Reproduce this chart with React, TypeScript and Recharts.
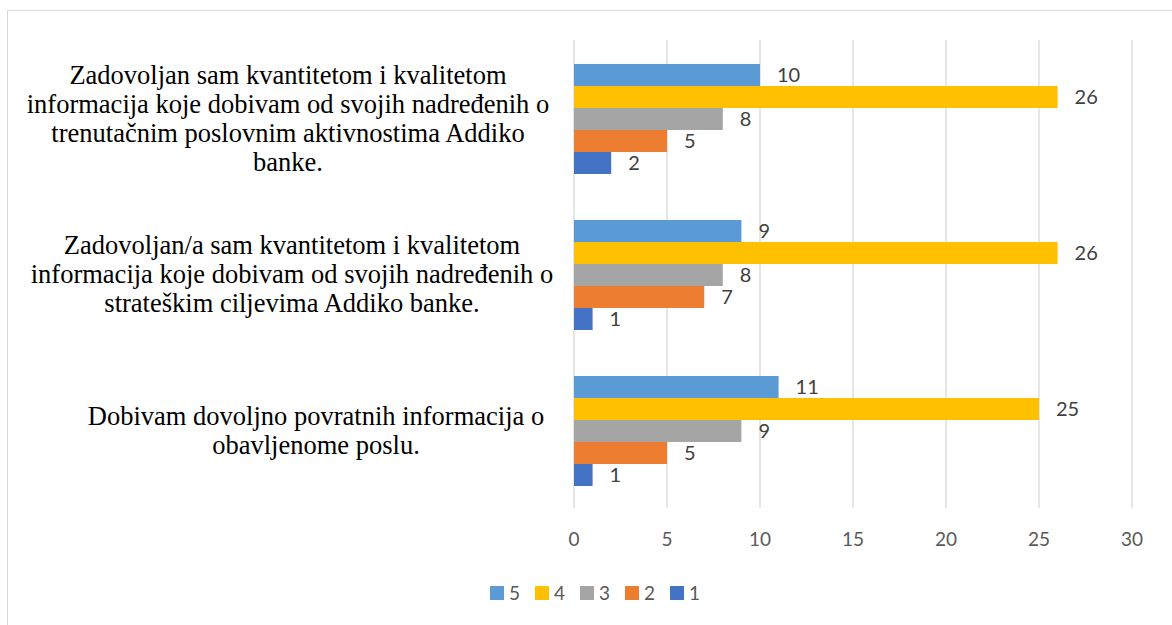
import React from "react";
import { BarChart, Bar, XAxis, YAxis, CartesianGrid, LabelList, Legend } from "recharts";

const categoryLines: string[][] = [
  [
    "Zadovoljan sam kvantitetom i kvalitetom",
    "informacija koje dobivam od svojih nadređenih o",
    "trenutačnim poslovnim aktivnostima Addiko",
    "banke.",
  ],
  [
    "Zadovoljan/a sam kvantitetom i kvalitetom",
    "informacija koje dobivam od svojih nadređenih o",
    "strateškim ciljevima Addiko banke.",
  ],
  ["Dobivam dovoljno povratnih informacija o", "obavljenome poslu."],
];
const categories = categoryLines.map((l) => l.join(" "));

const seriesNames = ["5", "4", "3", "2", "1"];
const seriesColors = ["#5B9BD5", "#FFC000", "#A5A5A5", "#ED7D31", "#4472C4"];
const values5 = [10, 9, 11];
const values4 = [26, 26, 25];
const values3 = [8, 8, 9];
const values2 = [5, 7, 5];
const values1 = [2, 1, 1];
const xTicks = [0, 5, 10, 15, 20, 25, 30];

const seriesValues = [values5, values4, values3, values2, values1];
const data = categories.map((c, i) => {
  const row: Record<string, string | number> = { category: c };
  seriesNames.forEach((s, k) => {
    row["s" + s] = seriesValues[k][i];
  });
  return row;
});

const NUM_FONT = "Lato, 'Open Sans', sans-serif";
const SERIF = "Liberation Serif, DejaVu Serif, serif";
// horizontal centre of each wrapped label block (style only)
const LABEL_CENTER_X = [288, 292, 316];

const CategoryTick = (props: any) => {
  const { y, payload } = props;
  const idx = categories.indexOf(payload.value);
  const lines = categoryLines[idx] || [String(payload.value)];
  const cx = LABEL_CENTER_X[idx] ?? 290;
  const lh = 29;
  return (
    <text x={cx} y={y} textAnchor="middle" fill="#000" style={{ fontFamily: SERIF, fontSize: 26.5 }}>
      {lines.map((ln, i) => (
        <tspan key={i} x={cx} y={y + (i - (lines.length - 1) / 2) * lh} dy="0.35em">
          {ln}
        </tspan>
      ))}
    </text>
  );
};

const LegendContent = () => (
  <div style={{ position: "relative", height: 20 }}>
    {seriesNames.map((s, i) => (
      <div
        key={s}
        style={{
          position: "absolute",
          left: 490 + i * 45,
          top: 0,
          display: "flex",
          alignItems: "center",
          fontFamily: NUM_FONT,
          fontSize: 19,
          color: "#595959",
          lineHeight: "20px",
        }}
      >
        <span style={{ display: "inline-block", width: 14, height: 14, background: seriesColors[i], marginRight: 5 }} />
        <span>{s}</span>
      </div>
    ))}
  </div>
);

export default function App() {
  return (
    <div style={{ position: "fixed", left: 0, top: 0, width: 1172, height: 625, overflow: "hidden", background: "#fff" }}>
      <div
        style={{
          position: "absolute",
          left: 7,
          top: 10,
          width: 1200,
          height: 700,
          border: "1px solid #d9d9d9",
          boxSizing: "border-box",
        }}
      />
      <div style={{ position: "absolute", left: 0, top: 0 }}>
        <BarChart
          width={1172}
          height={625}
          data={data}
          layout="vertical"
          margin={{ top: 40, right: 40, left: 0, bottom: 67 }}
          barCategoryGap={24}
          barGap={0}
        >
          <CartesianGrid horizontal={false} stroke="#d9d9d9" strokeWidth={1.3} />
          <XAxis
            type="number"
            domain={[0, 30]}
            ticks={xTicks}
            axisLine={false}
            tickLine={false}
            tickSize={0}
            tickMargin={25}
            height={50}
            tick={{ fill: "#595959", fontSize: 19, fontFamily: NUM_FONT }}
          />
          <YAxis
            type="category"
            dataKey="category"
            width={574}
            axisLine={false}
            tickLine={false}
            tick={<CategoryTick />}
            interval={0}
          />
          {seriesNames.map((s, i) => (
            <Bar key={s} dataKey={"s" + s} name={s} fill={seriesColors[i]} isAnimationActive={false}>
              <LabelList
                dataKey={"s" + s}
                position="right"
                offset={17}
                fill="#404040"
                fontSize={20}
                fontFamily={NUM_FONT}
              />
            </Bar>
          ))}
          <Legend
            layout="vertical"
            align="center"
            verticalAlign="middle"
            content={<LegendContent />}
            wrapperStyle={{ top: 583, left: 0, width: 1172, height: 20 }}
          />
        </BarChart>
      </div>
    </div>
  );
}
